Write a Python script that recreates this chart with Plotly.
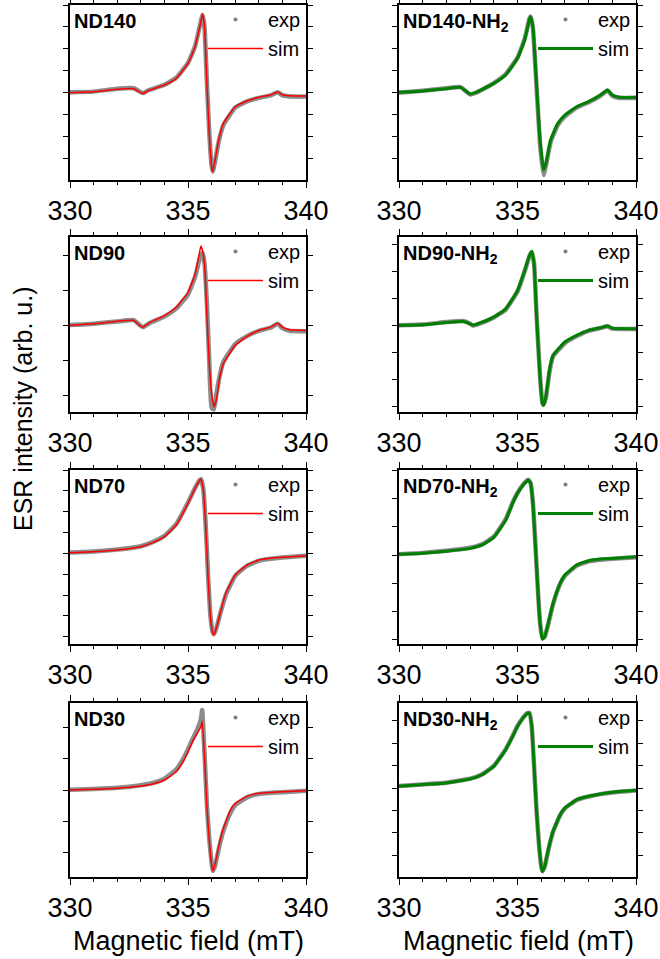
import plotly.graph_objects as go

# ---------------- data ----------------
PANEL_NAMES = ["ND140", "ND140-NH<sub>2</sub>", "ND90", "ND90-NH<sub>2</sub>",
               "ND70", "ND70-NH<sub>2</sub>", "ND30", "ND30-NH<sub>2</sub>"]

FIELD_ND140 = [330, 331, 332, 332.7, 333.0, 333.1, 333.3, 334, 334.5, 335, 335.3, 335.5, 335.62, 335.7,
               335.8, 335.9, 336.0, 336.05, 336.15, 336.3, 336.5, 337, 337.5, 338, 338.5, 338.8, 339, 339.5, 340]
SIM_ND140 = [0.0, 0.01, 0.04, 0.045, 0.0, -0.01, 0.02, 0.087, 0.163, 0.333, 0.525, 0.753, 0.897, 0.753,
             0.106, -0.464, -0.844, -0.901, -0.768, -0.540, -0.350, -0.160, -0.095, -0.053, -0.027, 0.008,
             -0.023, -0.038, -0.038]
EXP_ND140 = [0.005, 0.012, 0.045, 0.05, 0.005, -0.005, 0.025, 0.09, 0.17, 0.34, 0.53, 0.76, 0.89, 0.75,
             0.12, -0.45, -0.83, -0.90, -0.78, -0.56, -0.37, -0.17, -0.10, -0.06, -0.03, 0.005,
             -0.03, -0.045, -0.045]

FIELD_ND140_NH2 = [330, 331, 332, 332.6, 333.0, 333.3, 334, 334.5, 335, 335.3, 335.5, 335.55, 335.65, 335.8,
                   335.95, 336.1, 336.2, 336.4, 336.7, 337, 337.5, 338, 338.5, 338.8, 339, 339.3, 340]
SIM_ND140_NH2 = [0.004, 0.019, 0.046, 0.061, -0.015, 0.008, 0.106, 0.202, 0.392, 0.601, 0.829, 0.867, 0.753,
                 0.106, -0.540, -0.882, -0.806, -0.540, -0.350, -0.255, -0.160, -0.103, -0.027, 0.030,
                 -0.027, -0.053, -0.053]
EXP_ND140_NH2 = [0.0, 0.022, 0.05, 0.063, -0.02, 0.005, 0.11, 0.21, 0.40, 0.61, 0.84, 0.87, 0.74,
                 0.08, -0.58, -0.94, -0.83, -0.56, -0.37, -0.27, -0.17, -0.11, -0.035, 0.025,
                 -0.035, -0.06, -0.06]

FIELD_ND90 = [330, 331, 332, 332.7, 333.0, 333.1, 333.4, 334, 334.5, 335, 335.3, 335.5, 335.55, 335.62, 335.7,
              335.8, 335.9, 336.0, 336.1, 336.2, 336.35, 336.5, 337, 337.5, 338, 338.5, 338.8, 339, 339.3, 340]
SIM_ND90 = [0.0, 0.019, 0.049, 0.056, -0.011, -0.019, 0.037, 0.112, 0.206, 0.375, 0.58, 0.843, 0.899, 0.84,
            0.693, 0.131, -0.431, -0.768, -0.918, -0.843, -0.58, -0.431, -0.225, -0.124, -0.056, -0.019,
            0.026, -0.019, -0.049, -0.056]
EXP_ND90 = [0.005, 0.02, 0.045, 0.06, -0.005, -0.02, 0.03, 0.10, 0.19, 0.35, 0.55, 0.76, 0.80, 0.82,
            0.70, 0.25, -0.40, -0.93, -0.95, -0.78, -0.56, -0.41, -0.21, -0.12, -0.06, -0.025,
            0.02, -0.03, -0.06, -0.065]

FIELD_ND90_NH2 = [330, 331, 332, 332.7, 333.0, 333.1, 333.4, 334, 334.5, 335, 335.3, 335.5, 335.6, 335.7,
                  335.8, 335.95, 336.05, 336.1, 336.2, 336.35, 336.5, 337, 337.5, 338, 338.5, 338.8, 339, 340]
SIM_ND90_NH2 = [0.0, 0.007, 0.034, 0.045, 0.019, 0.004, 0.026, 0.094, 0.187, 0.393, 0.618, 0.787, 0.835,
                0.693, 0.131, -0.581, -0.88, -0.899, -0.805, -0.506, -0.337, -0.187, -0.112, -0.056,
                -0.026, -0.007, -0.03, -0.037]
EXP_ND90_NH2 = [0.003, 0.01, 0.038, 0.05, 0.02, 0.0, 0.022, 0.09, 0.18, 0.385, 0.61, 0.78, 0.83,
                0.70, 0.14, -0.57, -0.87, -0.90, -0.81, -0.52, -0.35, -0.20, -0.12, -0.06,
                -0.03, -0.01, -0.035, -0.04]

FIELD_ND70 = [330, 331, 332, 333, 333.5, 334, 334.5, 335, 335.3, 335.5, 335.55, 335.65, 335.75, 335.85,
              335.95, 336.05, 336.1, 336.2, 336.4, 336.6, 337, 337.5, 338, 338.5, 339, 340]
SIM_ND70 = [0.008, 0.02, 0.04, 0.08, 0.128, 0.2, 0.34, 0.6, 0.78, 0.88, 0.892, 0.76, 0.32, -0.28,
            -0.76, -0.96, -0.98, -0.9, -0.68, -0.48, -0.26, -0.14, -0.08, -0.06, -0.048, -0.028]
EXP_ND70 = [0.01, 0.022, 0.045, 0.085, 0.135, 0.21, 0.35, 0.61, 0.785, 0.88, 0.89, 0.77, 0.34, -0.26,
            -0.75, -0.95, -0.97, -0.9, -0.69, -0.50, -0.27, -0.15, -0.09, -0.065, -0.05, -0.03]

FIELD_ND70_NH2 = [330, 331, 332, 333, 333.5, 334, 334.5, 334.8, 335, 335.3, 335.45, 335.55, 335.65, 335.75,
                  335.85, 335.95, 336.05, 336.15, 336.3, 336.5, 336.8, 337, 337.5, 338, 338.5, 339, 340]
SIM_ND70_NH2 = [0.008, 0.02, 0.045, 0.078, 0.118, 0.208, 0.41, 0.61, 0.725, 0.843, 0.882, 0.843, 0.608,
                0.137, -0.37, -0.8, -0.99, -0.96, -0.8, -0.57, -0.33, -0.235, -0.118, -0.067, -0.047,
                -0.04, -0.02]
EXP_ND70_NH2 = [0.01, 0.025, 0.05, 0.085, 0.125, 0.215, 0.42, 0.62, 0.73, 0.85, 0.885, 0.85, 0.62,
                0.15, -0.36, -0.79, -0.98, -0.96, -0.81, -0.58, -0.34, -0.245, -0.125, -0.075, -0.055,
                -0.045, -0.025]

FIELD_ND30 = [330, 331, 332, 333, 333.5, 334, 334.5, 334.8, 335, 335.2, 335.4, 335.55, 335.6, 335.7,
              335.8, 335.9, 336.0, 336.05, 336.15, 336.3, 336.5, 336.8, 337, 337.5, 338, 339, 340]
SIM_ND30 = [0.0, 0.008, 0.019, 0.046, 0.07, 0.115, 0.21, 0.33, 0.44, 0.56, 0.654, 0.73, 0.79, 0.385,
            -0.19, -0.58, -0.85, -0.93, -0.85, -0.65, -0.44, -0.23, -0.154, -0.07, -0.038, -0.02, -0.008]
EXP_ND30 = [0.003, 0.012, 0.025, 0.055, 0.08, 0.13, 0.235, 0.36, 0.47, 0.59, 0.70, 0.82, 0.92, 0.42,
            -0.17, -0.56, -0.84, -0.93, -0.87, -0.68, -0.47, -0.26, -0.175, -0.085, -0.045, -0.025, -0.01]

FIELD_ND30_NH2 = [330, 331, 332, 333, 333.5, 334, 334.5, 334.8, 335, 335.2, 335.4, 335.5, 335.6, 335.7,
                  335.8, 335.9, 336.0, 336.05, 336.15, 336.3, 336.5, 336.8, 337, 337.5, 338, 338.5, 339, 340]
SIM_ND30_NH2 = [0.02, 0.04, 0.06, 0.106, 0.157, 0.255, 0.45, 0.61, 0.725, 0.81, 0.875, 0.882, 0.725, 0.255,
                -0.255, -0.647, -0.92, -0.98, -0.92, -0.725, -0.51, -0.314, -0.235, -0.137, -0.098, -0.07,
                -0.05, -0.027]
EXP_ND30_NH2 = [0.022, 0.042, 0.062, 0.11, 0.16, 0.26, 0.455, 0.615, 0.73, 0.815, 0.88, 0.885, 0.73, 0.26,
                -0.25, -0.64, -0.92, -0.98, -0.92, -0.73, -0.515, -0.32, -0.24, -0.14, -0.10, -0.072,
                -0.052, -0.03]

X_TICKS = [330, 335, 340]

FIELDS = [FIELD_ND140, FIELD_ND140_NH2, FIELD_ND90, FIELD_ND90_NH2,
          FIELD_ND70, FIELD_ND70_NH2, FIELD_ND30, FIELD_ND30_NH2]
SIMS = [SIM_ND140, SIM_ND140_NH2, SIM_ND90, SIM_ND90_NH2,
        SIM_ND70, SIM_ND70_NH2, SIM_ND30, SIM_ND30_NH2]
EXPS = [EXP_ND140, EXP_ND140_NH2, EXP_ND90, EXP_ND90_NH2,
        EXP_ND70, EXP_ND70_NH2, EXP_ND30, EXP_ND30_NH2]

# ---------------- layout / styling ----------------
W, H = 660, 959


def px_x(p):
    return p / W


def px_y(p):
    return 1 - p / H


COL_PX = [(70, 306), (399, 636)]
ROW_PX = [(5, 180), (237, 412), (470, 644), (703, 877)]
Y_RANGES = [(-0.996, 1.0), (-0.996, 1.0), (-0.978, 1.0), (-0.978, 1.0),
            (-1.088, 1.0), (-1.047, 1.0), (-1.0, 1.0), (-1.047, 1.0)]
Y_DTICK = [0.25, 0.25, 0.393, 0.306, 0.25, 0.33, 0.358, 0.263]
SIM_COLORS = ["#ff0000", "#008000"]
SIM_WIDTH = [1.5, 3]
FONT = "Liberation Sans, Arial, sans-serif"

fig = go.Figure()
layout = dict(width=W, height=H, margin=dict(l=0, r=0, t=0, b=0, autoexpand=False),
              plot_bgcolor="white", paper_bgcolor="white", showlegend=True,
              font=dict(family=FONT, color="black"))
annotations = []

for i in range(8):
    r, c = divmod(i, 2)
    k = i + 1
    xs = "" if k == 1 else str(k)
    xa, ya = "x" + xs, "y" + xs
    lg = "legend" + ("" if k == 1 else str(k))
    fig.add_trace(go.Scatter(x=FIELDS[i], y=EXPS[i], mode="lines", xaxis=xa, yaxis=ya,
                             line=dict(color="#7f7f7f", width=4.5, shape="spline", smoothing=0.4),
                             opacity=0.9, showlegend=False, hoverinfo="skip"))
    fig.add_trace(go.Scatter(x=[None], y=[None], mode="markers", name="exp", xaxis=xa, yaxis=ya,
                             marker=dict(color="#7f7f7f", size=4), legend=lg))
    fig.add_trace(go.Scatter(x=FIELDS[i], y=SIMS[i], mode="lines", name="sim", xaxis=xa, yaxis=ya,
                             line=dict(color=SIM_COLORS[c], width=SIM_WIDTH[c], shape="spline", smoothing=0.4),
                             legend=lg))
    x0, x1 = COL_PX[c]
    t, b = ROW_PX[r]
    axis_common = dict(showline=True, linecolor="black", linewidth=1.5, mirror="ticks",
                       ticks="outside", tickcolor="black", tickwidth=1.2, showgrid=False,
                       zeroline=False, automargin=False)
    layout["xaxis" + xs] = dict(axis_common, domain=[px_x(x0), px_x(x1)], range=[330, 340], anchor=ya,
                                tickvals=X_TICKS, ticklen=6,
                                tickfont=dict(size=27, family=FONT, color="black"),
                                minor=dict(dtick=1, ticklen=3.5, ticks="outside",
                                           tickcolor="black", tickwidth=1.2, showgrid=False))
    layout["yaxis" + xs] = dict(axis_common, domain=[px_y(b), px_y(t)], range=list(Y_RANGES[i]), anchor=xa,
                                tick0=0, dtick=Y_DTICK[i], ticklen=5, showticklabels=False)
    layout[lg] = dict(x=px_x(x1), y=px_y(t - 5), xanchor="right", yanchor="top",
                      bgcolor="rgba(0,0,0,0)", font=dict(size=20, family=FONT, color="black"),
                      itemwidth=55, tracegroupgap=0)
    annotations.append(dict(text="<b>" + PANEL_NAMES[i] + "</b>", xref=xa + " domain", yref=ya + " domain",
                            x=0.01, y=0.985, xanchor="left", yanchor="top", showarrow=False,
                            font=dict(size=20, family=FONT, color="black")))

annotations.append(dict(text="ESR intensity (arb. u.)", xref="paper", yref="paper",
                        x=px_x(23), y=px_y(409), xanchor="center", yanchor="middle",
                        textangle=-90, showarrow=False,
                        font=dict(size=25, family=FONT, color="black")))
for cx in (188, 518):
    annotations.append(dict(text="Magnetic field (mT)", xref="paper", yref="paper",
                            x=px_x(cx), y=px_y(941), xanchor="center", yanchor="middle",
                            showarrow=False,
                            font=dict(size=27, family=FONT, color="black")))
layout["annotations"] = annotations
fig.update_layout(**layout)
# remove the browser's default page margin so the figure fills the window exactly
fig.write_html("out.html", config={"displayModeBar": False},
               post_script="document.body.style.margin='0';")
